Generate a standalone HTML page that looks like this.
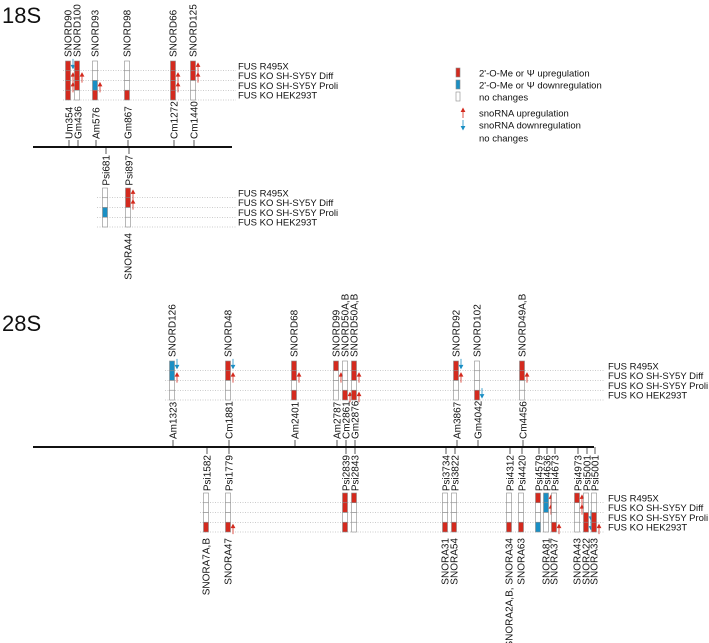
<!DOCTYPE html>
<html><head><meta charset="utf-8"><style>
html,body{margin:0;padding:0;background:#fff;}
svg{display:block;font-family:"Liberation Sans",Arial,sans-serif;}
</style></head><body>
<svg id="chart" width="709" height="643" viewBox="0 0 709 643" xmlns="http://www.w3.org/2000/svg"></svg>
<script>
// ---- data ----
const rowLabels = ["FUS R495X","FUS KO SH-SY5Y Diff","FUS KO SH-SY5Y Proli","FUS KO HEK293T"];
// 18S upper (2'-O-Me)
const s18UpSites = ["Um354","Gm436","Am576","Gm867","Cm1272","Cm1440"];
const s18UpPos = [354,436,576,867,1272,1440];
const s18UpSno = ["SNORD90","SNORD100","SNORD93","SNORD98","SNORD66","SNORD125"];
const s18UpState = [["r","r","r","r"],["r","r","r","n"],["n","n","b","r"],["n","n","n","r"],["r","r","r","r"],["r","r","n","n"]];
const s18UpArrow = [["d","u","u",""],["","u","",""],["","","u",""],["","","",""],["","u","u",""],["u","u","",""]];
// 18S lower (pseudouridine)
const s18LoSites = ["Psi681","Psi897"];
const s18LoPos = [681,897];
const s18LoSno = ["","SNORA44"];
const s18LoState = [["n","n","b","n"],["r","r","n","n"]];
const s18LoArrow = [["","","",""],["u","u","",""]];
// 28S upper
const s28UpSites = ["Am1323","Cm1881","Am2401","Am2787","Cm2861","Gm2876","Am3867","Gm4042","Cm4456"];
const s28UpPos = [1323,1881,2401,2787,2861,2876,3867,4042,4456];
const s28UpSno = ["SNORD126","SNORD48","SNORD68","SNORD99","SNORD50A,B","SNORD50A,B","SNORD92","SNORD102","SNORD49A,B"];
const s28UpState = [["b","b","n","n"],["r","r","n","n"],["r","r","n","r"],["r","n","n","n"],["n","n","n","r"],["r","r","n","r"],["r","r","n","n"],["n","n","n","r"],["r","r","n","n"]];
const s28UpArrow = [["d","u","",""],["d","u","",""],["","u","",""],["","u","",""],["","","","u"],["","u","","u"],["d","u","",""],["","","","d"],["","u","",""]];
// 28S lower
const s28LoSites = ["Psi1582","Psi1779","Psi2839","Psi2843","Psi3734","Psi3822","Psi4312","Psi4420","Psi4579","Psi4636","Psi4673","Psi4973","Psi5001","Psi5001"];
const s28LoPos = [1582,1779,2839,2843,3734,3822,4312,4420,4579,4636,4673,4973,5001,5001];
const s28LoSno = ["SNORA7A,B","SNORA47","","","SNORA31","SNORA54","SNORA2A,B, SNORA34","SNORA63","","SNORA81","SNORA37","SNORA43","SNORA22","SNORA33"];
const s28LoState = [["n","n","n","r"],["n","n","n","r"],["r","r","n","r"],["r","n","n","n"],["n","n","n","r"],["n","n","n","r"],["n","n","n","r"],["n","n","n","r"],["r","n","n","b"],["b","b","n","n"],["n","n","n","r"],["r","n","n","n"],["n","n","r","r"],["n","n","r","r"]];
const s28LoArrow = [["","","",""],["","","","u"],["","","",""],["","","",""],["","","",""],["","","",""],["","","",""],["","","",""],["","","",""],["u","u","",""],["","","","u"],["u","u","",""],["","","d","d"],["","","","u"]];
// box x positions (layout, not data)
const s18UpX = [68,77,95,127,173,193];
const s18LoX = [105,128];
const s28UpX = [172,228,294,336,345,354,456,477,522];
const s28LoX = [206,228,345,354,445,454,509,521,538,546,554,577,586,594];

const RED="#d42a1e", BLUE="#1a8fc4", GRAY="#8a8a8a";
const svg=document.getElementById('chart');
const NS="http://www.w3.org/2000/svg";
function el(tag,attrs,parent){const e=document.createElementNS(NS,tag);for(const k in attrs)e.setAttribute(k,attrs[k]);(parent||svg).appendChild(e);return e;}
function txt(s,attrs,parent){const t=el('text',attrs,parent);t.textContent=s;return t;}

function arrow(g,x,y,dir){
  const c = dir==="u"?RED:BLUE;
  if(dir==="u"){
    el('line',{x1:x,y1:y+6,x2:x,y2:y-1,stroke:c,'stroke-width':0.8},g);
    el('polygon',{points:`${x-2.4},${y} ${x+2.4},${y} ${x},${y-4.5}`,fill:c},g);
  } else {
    el('line',{x1:x,y1:y-6,x2:x,y2:y+1,stroke:c,'stroke-width':0.8},g);
    el('polygon',{points:`${x-2.4},${y} ${x+2.4},${y} ${x},${y+4.5}`,fill:c},g);
  }
}

function panel(name,xs,states,arrows,top,rowH,gridX1,gridX2,labelX){
  const g=el('g',{});
  
  
  for(let r=0;r<4;r++){
    const y=top+(r+1)*rowH;
    const ln=el('line',{x1:gridX1,y1:y,x2:gridX2,y2:y,stroke:"#999",'stroke-width':0.6,'stroke-dasharray':'1,1.5'},g);
    
    
    const t=txt(rowLabels[r],{x:labelX,y:top+r*rowH+rowH/2+3.5,'font-size':9.5,fill:"#111"},g);
    
    
  }
  xs.forEach((x,i)=>{
    const bg=el('g',{},g);
    
    
    for(let r=0;r<4;r++){
      const s=states[i][r];
      el('rect',{x:x-2.5,y:top+r*rowH,width:5,height:rowH,fill:s==="r"?RED:(s==="b"?BLUE:"#fff"),stroke:GRAY,'stroke-width':0.6},bg);
      const a=arrows[i][r];
      if(a) arrow(bg,x+5,top+r*rowH+rowH/2+ (a==="u"?1:-1),a);
    }
  });
  return g;
}

function vtextUp(s,x,y,name,size){
  const t=txt(s,{transform:`translate(${x+3.6},${y}) rotate(-90)`,'font-size':size||10,fill:"#111"});
  
  
}
function vtextDown(s,x,y,name,size){
  const t=txt(s,{transform:`translate(${x+3.6},${y}) rotate(-90)`,'text-anchor':'end','font-size':size||10,fill:"#111"});
  
  
}

function section(cfg){
  const {lineX1,lineX2,lineY,upSites,upSno,upX,upState,upArrow,upTop,loSites,loSno,loX,loState,loArrow,loTop,upGrid,loGrid,title,titleY,prefix}=cfg;
  const t=txt(title,{x:2,y:titleY,'font-size':22,fill:"#111"});
  
  
  const ax=el('line',{x1:lineX1,y1:lineY,x2:lineX2,y2:lineY,stroke:"#111",'stroke-width':2});
  
  
  upSites.forEach((s,i)=>{
    const x=upX[i]+1;
    const tk=el('line',{x1:x,y1:lineY,x2:x,y2:lineY-7,stroke:"#111",'stroke-width':0.7});
    
    
    vtextUp(s,x,lineY-8,'site-label');
    vtextUp(upSno[i],upX[i],upTop-4,'snorna-label');
  });
  panel(prefix+'-upper-panel',upX,upState,upArrow,upTop,9.75,upGrid[0],upGrid[1],upGrid[2]);
  loSites.forEach((s,i)=>{
    const x=loX[i]+1;
    const tk=el('line',{x1:x,y1:lineY,x2:x,y2:lineY+7,stroke:"#111",'stroke-width':0.7});
    
    
    vtextDown(s,x,lineY+8,'site-label');
    if(loSno[i]) vtextDown(loSno[i],loX[i],loTop+39+6,'snorna-label');
  });
  panel(prefix+'-lower-panel',loX,loState,loArrow,loTop,9.75,loGrid[0],loGrid[1],loGrid[2]);
}

section({prefix:'18s',title:'18S',titleY:23,lineX1:33,lineX2:232,lineY:147,
  upSites:s18UpSites,upSno:s18UpSno,upX:s18UpX,upState:s18UpState,upArrow:s18UpArrow,upTop:61,
  loSites:s18LoSites,loSno:s18LoSno,loX:s18LoX,loState:s18LoState,loArrow:s18LoArrow,loTop:188,
  upGrid:[63,236,238],loGrid:[97,236,238]});
section({prefix:'28s',title:'28S',titleY:331,lineX1:33,lineX2:594,lineY:447,
  upSites:s28UpSites,upSno:s28UpSno,upX:s28UpX,upState:s28UpState,upArrow:s28UpArrow,upTop:361,
  loSites:s28LoSites,loSno:s28LoSno,loX:s28LoX,loState:s28LoState,loArrow:s28LoArrow,loTop:493,
  upGrid:[165,604,608],loGrid:[200,604,608]});

// legend
const lg=el('g',{});


const legItems=[["box",RED,"2'-O-Me or \u03A8 upregulation",73],["box",BLUE,"2'-O-Me or \u03A8 downregulation",85],["box","#fff","no changes",97],["arr","u","snoRNA upregulation",113],["arr","d","snoRNA downregulation",125],["none","","no changes",138]];
legItems.forEach(it=>{
  const [k,c,label,y]=it;
  const e=el('g',{},lg);
  
  
  if(k==="box") el('rect',{x:456,y:y-5,width:4,height:9,fill:c,stroke:GRAY,'stroke-width':0.6},e);
  if(k==="arr") arrow(e,463,y+(c==="u"?-1:1),c);
  txt(label,{x:479,y:y+3.5,'font-size':9.5,fill:"#111"},e);
});
</script>
</body></html>
